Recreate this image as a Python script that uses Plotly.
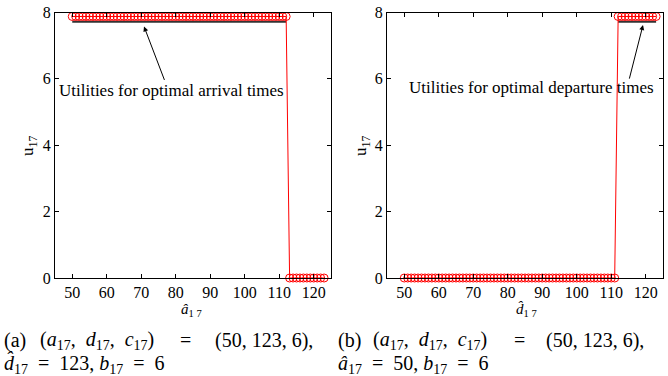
import plotly.graph_objects as go

W, H = 668, 376

# ---- data ----
a_hat = list(range(50, 124))                       # x grid, left panel
u_arrival = [7.88] * 63 + [0.0] * 11              # utilities vs a-hat
opt_arrival_x = [50, 112]
opt_arrival_u = [7.72, 7.72]

d_hat = list(range(50, 124))                       # x grid, right panel
u_departure = [0.0] * 62 + [7.88] * 12            # utilities vs d-hat
opt_departure_x = [112, 123]
opt_departure_u = [7.72, 7.72]

x_ticks = [50, 60, 70, 80, 90, 100, 110, 120]
y_ticks = [0, 2, 4, 6, 8]

FONT = "Liberation Serif"


def px(x):
    return x / W


def py(y):
    return 1 - y / H


fig = go.Figure()

red_marker = dict(symbol="circle-open", size=8, color="red", line=dict(width=1, color="red"))

fig.add_trace(go.Scatter(x=opt_arrival_x, y=opt_arrival_u, mode="lines",
                         line=dict(color="#333333", width=2), xaxis="x", yaxis="y",
                         showlegend=False, cliponaxis=False))
fig.add_trace(go.Scatter(x=a_hat, y=u_arrival, mode="lines+markers",
                         line=dict(color="red", width=1), marker=red_marker,
                         xaxis="x", yaxis="y", showlegend=False, cliponaxis=False))
fig.add_trace(go.Scatter(x=opt_departure_x, y=opt_departure_u, mode="lines",
                         line=dict(color="#333333", width=2), xaxis="x2", yaxis="y2",
                         showlegend=False, cliponaxis=False))
fig.add_trace(go.Scatter(x=d_hat, y=u_departure, mode="lines+markers",
                         line=dict(color="red", width=1), marker=red_marker,
                         xaxis="x2", yaxis="y2", showlegend=False, cliponaxis=False))

axis_common = dict(showline=True, linecolor="black", linewidth=1, mirror="ticks",
                   ticks="inside", ticklen=4, tickcolor="black", showgrid=False,
                   zeroline=False, automargin=False,
                   tickfont=dict(family=FONT, size=16, color="black"))

fig.update_layout(
    width=W, height=H, margin=dict(l=0, r=0, t=0, b=0, autoexpand=False),
    paper_bgcolor="white", plot_bgcolor="white",
    xaxis=dict(domain=[px(55), px(331)], range=[45, 125], tickvals=x_ticks, anchor="y", **axis_common),
    yaxis=dict(domain=[py(278), py(12.5)], range=[0, 8], tickvals=y_ticks, anchor="x", **axis_common),
    xaxis2=dict(domain=[px(387), px(663)], range=[45, 125], tickvals=x_ticks, anchor="y2", **axis_common),
    yaxis2=dict(domain=[py(278), py(12.5)], range=[0, 8], tickvals=y_ticks, anchor="x2", **axis_common),
)

ann = []
tf = dict(family=FONT, size=17, color="black")
# arrows
ann.append(dict(x=70.8, y=7.58, xref="x", yref="y", ax=21, ay=55, text="", showarrow=True,
                arrowhead=2, arrowsize=1, arrowwidth=1, arrowcolor="black"))
ann.append(dict(x=119.2, y=7.62, xref="x2", yref="y2", ax=-14, ay=55, text="", showarrow=True,
                arrowhead=2, arrowsize=1, arrowwidth=1, arrowcolor="black"))
# annotation texts
ann.append(dict(x=px(171), y=py(90), xref="paper", yref="paper", text="Utilities for optimal arrival times",
                showarrow=False, font=tf, xanchor="center", yanchor="middle"))
ann.append(dict(x=px(531), y=py(87), xref="paper", yref="paper", text="Utilities for optimal departure times",
                showarrow=False, font=tf, xanchor="center", yanchor="middle"))
# axis titles
ann.append(dict(x=px(191), y=py(310), xref="paper", yref="paper", text="<i>â</i><sub>1 7</sub>",
                showarrow=False, font=dict(family=FONT, size=15, color="black"), xanchor="center", yanchor="middle"))
ann.append(dict(x=px(526), y=py(310), xref="paper", yref="paper", text="<i>d\u0302</i><sub>1 7</sub>",
                showarrow=False, font=dict(family=FONT, size=15, color="black"), xanchor="center", yanchor="middle"))
for xc in (29, 362):
    ann.append(dict(x=px(xc), y=py(146), xref="paper", yref="paper", text="u<sub>17</sub>",
                    showarrow=False, font=dict(family=FONT, size=17, color="black"), textangle=-90,
                    xanchor="center", yanchor="middle"))

# captions
cf = dict(family=FONT, size=20, color="black")
tup = "(<i>a</i><sub>17</sub>,\u2002<i>d</i><sub>17</sub>,\u2002<i>c</i><sub>17</sub>)"
def cap(x, y, text, xanchor="left"):
    ann.append(dict(x=px(x), y=py(y), xref="paper", yref="paper", text=text, showarrow=False,
                    font=cf, xanchor=xanchor, yanchor="middle"))

EQ = "\u2002=\u2002"
cap(2, 340, "(a)")
cap(38, 340, tup)
cap(186, 340, "=", "center")
cap(213, 340, "(50, 123, 6),")
cap(2, 364, "<i>d\u0302</i><sub>17</sub>" + EQ + "123, <i>b</i><sub>17</sub>" + EQ + "6")
cap(336, 340, "(b)")
cap(371, 340, tup)
cap(519, 340, "=", "center")
cap(544, 340, "(50, 123, 6),")
cap(336, 364, "<i>â</i><sub>17</sub>" + EQ + "50, <i>b</i><sub>17</sub>" + EQ + "6")

fig.update_layout(annotations=ann)
fig.write_html("out.html", config={"displayModeBar": False},
               post_script="document.body.style.margin='0px';")
